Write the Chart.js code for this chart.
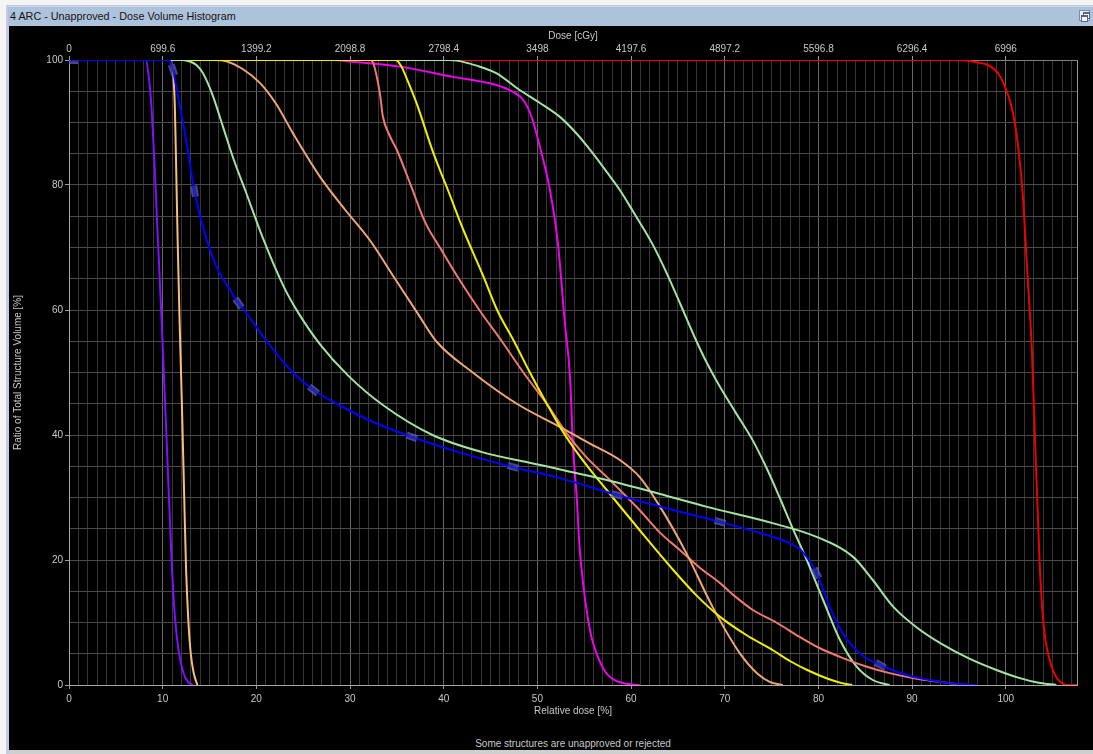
<!DOCTYPE html>
<html>
<head>
<meta charset="utf-8">
<title>Dose Volume Histogram</title>
<script src="https://cdn.jsdelivr.net/npm/chart.js@4.4.1/dist/chart.umd.min.js"></script>
<style>
  html, body { margin: 0; padding: 0; width: 1093px; height: 754px; overflow: hidden; background: #f4f4f4;
    font-family: "Liberation Sans", Arial, sans-serif; }
  #frame { position: absolute; left: 6px; top: 5px; width: 1087px; height: 749px; background: #c4cbe3; }
  #titlebar { position: absolute; left: 8px; top: 6px; width: 1085px; height: 20px; background: #adc2db;
    border-top: 1px solid #c9d7ea; box-sizing: border-box; color: #151515; font-size: 10.8px; line-height: 19px; padding-left: 2px; }
  #restore { position: absolute; right: 3px; top: 3px; width: 11px; height: 11px; background: #e9eef6; border: 1px solid #7d8ca3; box-sizing: border-box; }
  #restore i { position: absolute; width: 5px; height: 4px; border: 1px solid #55657d; border-top-width: 2px; background: #f4f7fb; }
  #plot { position: absolute; left: 9px; top: 26px; width: 1084px; height: 724px; background: #000; }
  #bottomstrip { position: absolute; left: 9px; top: 750px; width: 1084px; height: 4px; background: #cfcfcf; }
  #note { position: absolute; left: 69px; width: 1008px; top: 738px; text-align: center; font-size: 10px; color: #c8c8c8; }
  #dvh { position: absolute; left: 0; top: 0; }
</style>
</head>
<body>
<div id="frame"></div>
<div id="titlebar">4 ARC - Unapproved - Dose Volume Histogram<div id="restore"><i style="left:3px;top:1px"></i><i style="left:1px;top:4px"></i></div></div>
<div id="plot"></div>
<div id="bottomstrip"></div>
<div id="note">Some structures are unapproved or rejected</div>
<canvas id="dvh" width="1093" height="754"></canvas>
<script>
// Axis labels
const relTickLabels = [0, 10, 20, 30, 40, 50, 60, 70, 80, 90, 100];
const doseTickLabels = ['0', '699.6', '1399.2', '2098.8', '2798.4', '3498', '4197.6', '4897.2', '5596.8', '6296.4', '6996'];
const volTickLabels = [0, 20, 40, 60, 80, 100];
const X_MAX = 107.6;

// Cumulative DVH curves: [relative dose %, volume %]
const blueCurve = [[0,100],[10.6,100],[10.9,99.5],[11.1,98.4],[11.85,92.5],[12.5,87.2],[13.4,79],[14.3,73.3],[15.75,66.9],
  [17.2,63.2],[18.1,61.1],[18.6,60.2],[21.1,55],[23.9,50],[26.1,47.2],[28.6,45],[32,42.4],[36,40],[41.5,37.3],[47,35],
  [52.4,33.1],[58.5,30.4],[64,28.2],[69.5,26.1],[74,24.2],[76.9,22.7],[78.3,21.3],[79.8,17.9],[81.2,12.5],[82.5,8.5],
  [83.7,6.1],[85,4.4],[86.6,3.2],[89.4,1.6],[93,0.5],[95,0.15],[96.9,0]];
const violetCurve = [[0,100],[8.2,100],[8.5,97.5],[8.8,92.5],[9.17,82],[9.5,71],[9.88,58.5],[10.4,40],[10.95,20],
  [11.3,11],[11.7,5.5],[12.2,2],[12.7,0.5],[13.2,0]];
const tanCurve = [[0,100],[10.7,100],[10.95,99.3],[11.1,98.2],[11.3,92.5],[11.45,82],[11.6,71],[11.8,58.5],[12.05,45],
  [12.3,30],[12.5,18.4],[12.75,10],[13.0,5],[13.3,2],[13.7,0]];
const greenCurveA = [[0,100],[11.9,100],[12.8,99.8],[13.6,99.2],[14.3,97.9],[15.3,94.5],[16.4,89.5],[17.6,84],[18.8,79.2],
  [20.7,71.5],[23.0,63.5],[24.5,59.5],[26.8,54.5],[29.8,49.5],[33.5,44.8],[38.8,40],[44,37.3],[50.3,35.2],[57.4,32.8],[63,30.6],
  [68.1,28.5],[75.1,25.9],[79.8,23.7],[83.7,20.5],[85.8,16.8],[88,12.5],[90.5,9.2],[93,6.7],[96,4.3],[99,2.4],[101.5,1.1],
  [103.5,0.35],[105.4,0]];
const yellowCurve = [[0,100],[34.9,100],[35.5,98.9],[36.2,96.5],[37.1,93.1],[38.9,85.1],[40.5,79],[42.1,72.8],[44.2,65.5],
  [45.7,60],[47.5,55],[49.2,50],[51,45],[52.4,41.3],[53.8,38.1],[55.6,34.5],[57.4,31.2],[60.9,24.8],[64.5,18.4],[67,14.3],
  [69.5,10.9],[72.3,8],[75.1,5.6],[77,3.8],[78.8,2.4],[81,1],[82.5,0.3],[83.6,0]];
const peachCurve = [[0,100],[15.5,100],[16.8,99.8],[18.5,98.6],[20.4,96.3],[22.1,93],[23.9,88.3],[26.8,81.3],[29.5,76],
  [32.1,71.2],[34.8,65],[37.2,59.5],[39.2,55],[43.1,50],[47.8,45],[52.4,41.3],[55.5,38.7],[58.8,36],[60.9,33.3],[63.1,28.5],
  [65.9,21.1],[68.7,12.5],[71.6,5.1],[73.5,1.8],[74.8,0.5],[76.2,0]];
const salmonCurve = [[0,100],[32.2,100],[32.5,99.4],[32.9,97],[33.2,94.5],[33.5,91],[34.2,88],[35,85.6],[36.4,80.3],[38,74.1],
  [39.8,69.5],[41.7,64.8],[43.8,60],[46.2,55],[48.5,50],[51,45],[53.1,40.3],[55.2,36.5],[57.4,33.3],[60.9,28],[63,24.5],
  [65.2,21.6],[67.3,18.8],[69.5,16.3],[71,14.3],[73,12],[75.5,10],[78,7.7],[80,6],[82.3,4.5],[85,3],[87.6,1.9],[90.5,1],
  [93,0.5],[95.5,0]];
const magentaCurve = [[0,100],[28.5,100],[29.7,99.8],[35.5,98.9],[41,97.3],[45.6,96],[47.4,94.9],[48.5,93.6],[49.4,90.8],
  [50.2,86.5],[51.3,79.5],[52.2,70.5],[52.9,58.4],[53.5,48.8],[53.8,38.1],[54.2,30],[54.5,22.1],[54.9,16],[55.3,11.5],
  [55.8,7.5],[56.3,5.1],[57.2,2.2],[58.1,0.9],[59.5,0.2],[60.9,0]];
const greenCurveB = [[0,100],[40.5,100],[41.4,99.9],[43.5,99.1],[45.6,97.9],[48.1,95.2],[50.2,93.2],[52.4,90.9],[54.2,88.2],
  [55.9,85.1],[57.4,82.1],[58.8,79.2],[60.2,75.8],[62.3,70.5],[63.8,65.9],[65.3,60.8],[66.8,55.6],[68,51.8],[69.3,48.2],
  [71.2,43.5],[73,39.1],[74.5,34.6],[75.8,30.2],[77.3,24.9],[78.7,20.2],[80.5,13.6],[82.3,7.2],[84.1,2.9],[85.8,0.8],[87.6,0]];
const redCurve = [[0,100],[94.5,100],[95.8,99.9],[97,99.6],[98.1,99.2],[99.2,97.8],[100,95.4],[100.6,92.6],[101.1,88.6],
  [101.5,83.6],[101.8,78.6],[102.3,66],[102.8,53],[103.1,40],[103.4,28],[103.6,20],[103.9,12],[104.2,7.5],[104.6,4.5],
  [105,2.5],[105.5,1],[106,0.3],[106.5,0],[107.6,0]];

// Editable handles on the blue curve, with the tangent angle (degrees) of the curve at each one
const blueHandles = [[0.4,100],[11.1,98.4],[13.4,79],[18.1,61.1],[26.1,47.2],[36.6,39.7],[47.4,34.9],[58.5,30.4],[69.5,26.1],[79.8,17.9],[86.6,3.2]];
const blueHandleAngles = [0, 72, 80, 54, 38, 19, 16, 14, 15, 64, 28];

const toXY = arr => arr.map(([x, y]) => ({ x, y }));

// Handle glyph: two short translucent bars
const handleGlyph = document.createElement('canvas');
handleGlyph.width = 11; handleGlyph.height = 7;
(() => {
  const g = handleGlyph.getContext('2d');
  g.fillStyle = 'rgba(70,70,170,0.45)';
  g.fillRect(0, 0, 11, 7);
  g.fillStyle = 'rgba(95,95,190,0.6)';
  g.fillRect(0, 0, 11, 2);
  g.fillRect(0, 5, 11, 2);
})();

const xGrid = [];
for (let v = 0; v <= 107; v++) xGrid.push(v);
xGrid.push(X_MAX);
const yGrid = [];
for (let v = 0; v <= 100; v += 5) yGrid.push(v);

const curve = (data, color, order) => ({
  data: toXY(data), borderColor: color, borderWidth: 2, pointRadius: 0, fill: false,
  cubicInterpolationMode: 'monotone', order
});

Chart.defaults.font.family = '"Liberation Sans", Arial, sans-serif';
Chart.defaults.font.size = 10;
Chart.defaults.color = '#c8c8c8';

const isMajorX = v => relTickLabels.includes(v);
const labelColor = '#c8c8c8';

new Chart(document.getElementById('dvh'), {
  type: 'line',
  data: {
    datasets: [
      { data: toXY(blueHandles), showLine: false, pointStyle: handleGlyph, pointRadius: 4,
        rotation: blueHandleAngles, order: 0 },
      curve(blueCurve, '#0000ff', 1),
      curve(violetCurve, '#7f10ff', 2),
      curve(tanCurve, '#f7bd7f', 3),
      curve(greenCurveA, '#a3e4a3', 4),
      curve(yellowCurve, '#f0f000', 5),
      curve(peachCurve, '#eea873', 6),
      curve(salmonCurve, '#ee7b6e', 7),
      curve(magentaCurve, '#f000f0', 8),
      curve(greenCurveB, '#a3e4a3', 9),
      curve(redCurve, '#ee0000', 10)
    ]
  },
  options: {
    responsive: false,
    animation: false,
    events: [],
    layout: { padding: { left: 9, right: 16, top: 26, bottom: 4 } },
    plugins: { legend: { display: false }, tooltip: { enabled: false } },
    scales: {
      x: {
        type: 'linear', position: 'bottom', min: 0, max: X_MAX,
        afterBuildTicks: s => { s.ticks = xGrid.map(value => ({ value })); },
        afterFit: s => { s.height = 65; },
        ticks: { autoSkip: false, maxRotation: 0, minRotation: 0, padding: 4, color: labelColor,
          callback: v => (isMajorX(v) ? String(v) : '') },
        grid: {
          color: c => (c.tick.value === X_MAX ? '#9a9a9a' : isMajorX(c.tick.value) ? '#666666' : '#363636'),
          tickLength: 4,
          tickColor: c => (isMajorX(c.tick.value) ? '#9a9a9a' : 'rgba(0,0,0,0)')
        },
        border: { color: '#a8a8a8' },
        title: { display: true, text: 'Relative dose [%]', color: labelColor, padding: { top: 0, bottom: 33 } }
      },
      x2: {
        type: 'linear', position: 'top', min: 0, max: X_MAX,
        afterBuildTicks: s => { s.ticks = xGrid.map(value => ({ value })); },
        afterFit: s => { s.height = 34; },
        ticks: { autoSkip: false, maxRotation: 0, minRotation: 0, padding: 1, color: labelColor,
          callback: v => (isMajorX(v) ? doseTickLabels[relTickLabels.indexOf(v)] : '') },
        grid: { drawOnChartArea: false, tickLength: 4,
          tickColor: c => (isMajorX(c.tick.value) ? '#9a9a9a' : 'rgba(0,0,0,0)') },
        border: { color: '#808080' },
        title: { display: true, text: 'Dose [cGy]', color: labelColor, padding: { top: 4, bottom: 0 } }
      },
      y: {
        type: 'linear', min: 0, max: 100,
        afterBuildTicks: s => { s.ticks = yGrid.map(value => ({ value })); },
        afterFit: s => { s.width = 60; },
        ticks: { autoSkip: false, padding: 2, color: labelColor,
          callback: v => (volTickLabels.includes(v) ? String(v) : '') },
        grid: { color: '#4a4a4a', tickLength: 4,
          tickColor: c => (volTickLabels.includes(c.tick.value) ? '#9a9a9a' : 'rgba(0,0,0,0)') },
        border: { color: '#a8a8a8' },
        title: { display: true, text: 'Ratio of Total Structure Volume [%]', color: labelColor, padding: { top: 3, bottom: 0 } }
      }
    }
  }
});
</script>
</body>
</html>
